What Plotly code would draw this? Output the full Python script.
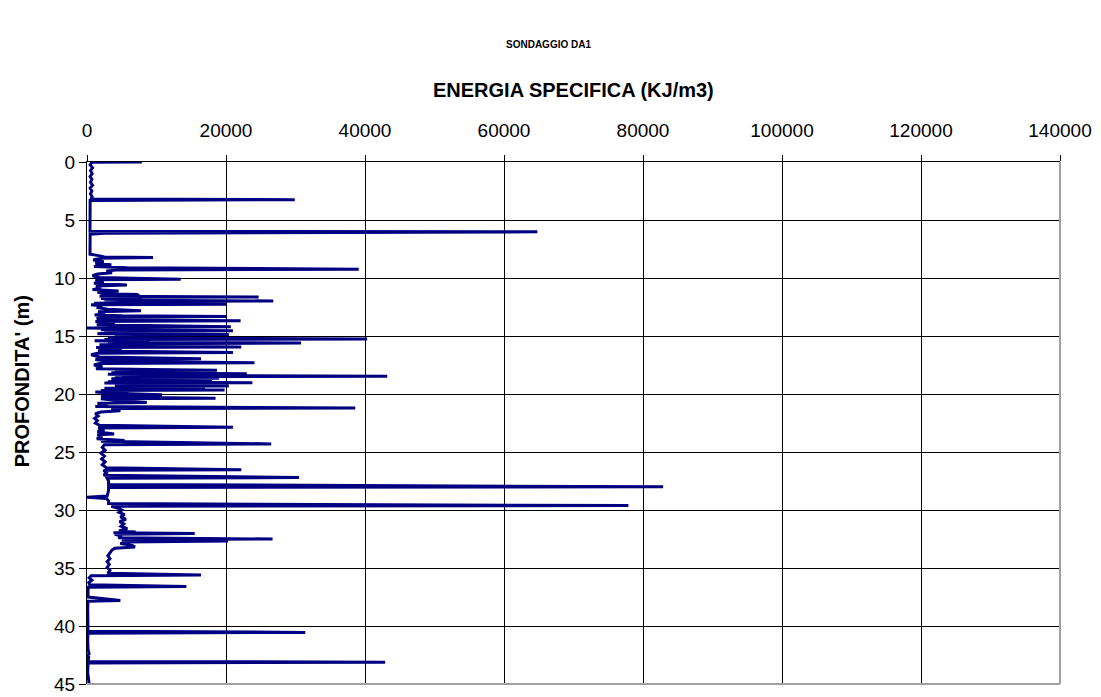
import plotly.graph_objects as go

# Energy log of borehole DA1: depth (m) and specific energy (kJ/m3)
# --- 0 to 8 m
depth_0_8 = [0.00, 0.03, 0.25, 0.50, 0.75, 1.00, 1.25, 1.50, 1.75, 2.00, 2.25, 2.50,
             2.75, 3.00, 3.20, 3.25, 3.32, 4.50, 5.98, 6.02, 6.08, 6.14, 6.22, 7.95]
energy_0_8 = [7900, 700, 450, 800, 500, 750, 450, 700, 500, 800, 450, 700,
              500, 750, 550, 29900, 450, 430, 430, 64800, 15800, 2500, 450, 430]

# --- 8 to 14 m
depth_8_14 = [8.05, 8.18, 8.24, 8.30, 8.45, 8.60, 8.75, 8.85, 9.00, 9.12,
              9.24, 9.30, 9.40, 9.55, 9.65, 9.80, 9.95, 10.10, 10.16, 10.30,
              10.45, 10.60, 10.68, 10.85, 11.00, 11.12, 11.20, 11.35, 11.42, 11.48,
              11.54, 11.58, 11.63, 11.67, 11.72, 11.77, 11.82, 11.88, 11.92, 11.98,
              12.02, 12.07, 12.12, 12.17, 12.22, 12.26, 12.30, 12.42, 12.55, 12.70,
              12.83, 12.92, 13.05, 13.18, 13.26, 13.32, 13.38, 13.50, 13.62, 13.69,
              13.76, 13.84, 13.90, 14.02]
energy_8_14 = [1500, 2500, 9500, 1800, 900, 2400, 1200, 3500, 1000, 5800,
               39100, 4500, 2800, 3600, 1500, 800, 1800, 13500, 1200, 2400,
               1000, 5750, 1300, 2000, 800, 4550, 1500, 2500, 7400, 2000,
               7600, 1800, 24700, 3000, 7800, 2000, 8000, 2500, 7500, 26800,
               4000, 7900, 8150, 1000, 7000, 20100, 600, 2200, 1400, 3000,
               7770, 1600, 2600, 1100, 5000, 20100, 2000, 1400, 5500, 22100,
               1200, 4000, 2800, 1400]

# --- 14 to 20 m
depth_14_20 = [14.20, 14.26, 14.30, 14.36, 14.40, 14.46, 14.54, 14.60, 14.66, 14.72,
               14.80, 14.88, 14.95, 15.04, 15.10, 15.16, 15.20, 15.25, 15.31, 15.36,
               15.42, 15.52, 15.56, 15.60, 15.66, 15.76, 15.86, 15.94, 16.00, 16.08,
               16.15, 16.30, 16.42, 16.48, 16.62, 16.80, 16.97, 17.03, 17.18, 17.31,
               17.37, 17.50, 17.65, 17.82, 17.90, 17.96, 18.00, 18.04, 18.08, 18.12,
               18.16, 18.21, 18.25, 18.29, 18.33, 18.38, 18.43, 18.48, 18.52, 18.56,
               18.60, 18.64, 18.68, 18.72, 18.76, 18.80, 18.85, 18.90, 18.95, 19.02,
               19.06, 19.11, 19.16, 19.20, 19.25, 19.30, 19.34, 19.40, 19.45, 19.50,
               19.55, 19.60, 19.65, 19.70, 19.76, 19.82, 19.90, 19.96]
energy_14_20 = [20700, 3500, 0, 5000, 16000, 2000, 21000, 2500, 9000, 3000,
                1500, 20400, 4000, 8000, 12000, 3000, 20000, 40300, 2500, 7000,
                1100, 9000, 3000, 30800, 7000, 1800, 6000, 22200, 1300, 5000,
                3200, 1600, 21000, 1500, 600, 1800, 16400, 1200, 3000, 24100,
                1800, 1000, 2200, 1300, 12000, 18700, 4000, 16000, 5000, 17000,
                3500, 19000, 23000, 3000, 14000, 6000, 20000, 43200, 5000, 17000,
                4000, 19000, 3500, 16000, 4000, 15000, 5000, 18000, 3000, 23800,
                2500, 14000, 12000, 4500, 17000, 20400, 4000, 17000, 12000, 2500,
                9000, 3000, 19800, 2000, 6000, 1200, 3000, 5000]

# --- 20 to 30 m
depth_20_30 = [20.07, 20.10, 20.14, 20.18, 20.22, 20.26, 20.30, 20.36, 20.42, 20.55,
               20.73, 20.80, 20.95, 21.08, 21.20, 21.26, 21.45, 21.55, 21.70, 21.90,
               22.10, 22.30, 22.50, 22.70, 22.87, 22.94, 23.10, 23.25, 23.44, 23.52,
               23.70, 23.85, 24.00, 24.08, 24.30, 24.37, 24.60, 24.85, 25.10, 25.35,
               25.60, 25.85, 26.10, 26.35, 26.52, 26.58, 26.80, 27.00, 27.20, 27.26,
               27.50, 27.80, 28.00, 28.06, 28.30, 28.60, 28.80, 28.90, 29.00, 29.20,
               29.45, 29.62, 29.68, 29.85]
energy_20_30 = [10800, 3000, 9000, 2000, 7000, 2500, 11000, 18500, 2000, 4000,
                8600, 1500, 3000, 1200, 38600, 3500, 4800, 2000, 1200, 1600,
                1100, 1500, 1200, 1800, 21000, 1600, 2500, 1500, 3900, 1500,
                2200, 1400, 5400, 2000, 26500, 2500, 2200, 2600, 2000, 2500,
                2100, 2600, 2200, 2800, 22200, 2400, 2800, 2400, 30500, 2900,
                3100, 3100, 82900, 3100, 3100, 3000, 2900, 0, 2800, 3100,
                3100, 77900, 3500, 4500]

# --- 30 to 45 m
depth_30_45 = [30.00, 30.20, 30.40, 30.60, 30.80, 31.00, 31.20, 31.40, 31.60, 31.80,
               31.90, 31.96, 32.02, 32.10, 32.25, 32.40, 32.50, 32.56, 32.68, 32.75,
               32.90, 33.05, 33.20, 33.30, 33.45, 33.70, 33.95, 34.20, 34.45, 34.70,
               34.95, 35.20, 35.45, 35.60, 35.66, 35.85, 36.05, 36.25, 36.45, 36.60,
               36.66, 36.90, 37.20, 37.50, 37.80, 37.86, 38.50, 39.30, 40.10, 40.45,
               40.55, 40.62, 41.20, 42.00, 42.40, 42.50, 42.70, 43.05, 43.12, 43.18,
               44.00, 44.97]
energy_30_45 = [5000, 4600, 5400, 4800, 5600, 4700, 5300, 4900, 5800, 4600,
                7000, 3800, 15500, 4000, 5000, 4500, 26700, 5000, 20300, 5500,
                4800, 6500, 6900, 4000, 3600, 3300, 3000, 3300, 2900, 3200,
                2900, 3300, 3000, 16400, 600, 300, 700, 250, 400, 14300,
                200, 150, 150, 150, 4800, 150, 100, 150, 100, 150,
                31400, 150, 100, 150, 300, 100, 250, 150, 42900, 150,
                100, 300]

depth = depth_0_8 + depth_8_14 + depth_14_20 + depth_20_30 + depth_30_45
energy = energy_0_8 + energy_8_14 + energy_14_20 + energy_20_30 + energy_30_45
assert len(depth) == len(energy)

x_ticks = [0, 20000, 40000, 60000, 80000, 100000, 120000, 140000]
y_ticks = [0, 5, 10, 15, 20, 25, 30, 35, 40, 45]

FONT = "Liberation Sans, Arial, sans-serif"

fig = go.Figure(
    go.Scatter(
        x=energy,
        y=depth,
        mode="lines",
        line=dict(color="#000080", width=3),
        hoverinfo="x+y",
        showlegend=False,
    )
)

fig.update_layout(
    width=1101,
    height=697,
    margin=dict(l=87, r=41, t=162, b=13, autoexpand=False),
    paper_bgcolor="white",
    plot_bgcolor="white",
    font=dict(family=FONT, color="black"),
    xaxis=dict(
        side="top",
        range=[0, 140000],
        tickvals=x_ticks,
        ticktext=[str(v) for v in x_ticks],
        ticks="outside",
        ticklen=6,
        tickcolor="black",
        tickfont=dict(size=19, family=FONT, color="black"),
        ticklabelstandoff=10,
        showgrid=True,
        gridcolor="black",
        gridwidth=1,
        showline=True,
        linecolor="black",
        linewidth=1,
        zeroline=False,
        automargin=False,
        fixedrange=True,
    ),
    yaxis=dict(
        range=[45, 0],
        tickvals=y_ticks,
        ticktext=[str(v) for v in y_ticks],
        ticks="outside",
        ticklen=7,
        tickcolor="black",
        tickfont=dict(size=19, family=FONT, color="black"),
        ticklabeloverflow="allow",
        showgrid=True,
        gridcolor="black",
        gridwidth=1,
        showline=True,
        linecolor="black",
        linewidth=1,
        zeroline=False,
        automargin=False,
        fixedrange=True,
    ),
    shapes=[
        # grey frame on the right and bottom sides of the plot area
        dict(type="line", xref="paper", yref="paper", x0=1, x1=1, y0=0, y1=1,
             line=dict(color="#a0a0a0", width=2), layer="above"),
        dict(type="line", xref="paper", yref="paper", x0=0, x1=1, y0=0, y1=0,
             line=dict(color="#a0a0a0", width=2), layer="above"),
    ],
    annotations=[
        dict(text="<b>SONDAGGIO DA1</b>", xref="paper", yref="paper",
             x=0.474, y=1.225, xanchor="center", yanchor="middle",
             showarrow=False, font=dict(size=10, family=FONT, color="black")),
        dict(text="<b>ENERGIA SPECIFICA (KJ/m3)</b>", xref="paper", yref="paper",
             x=0.5, y=1.138, xanchor="center", yanchor="middle",
             showarrow=False, font=dict(size=20, family=FONT, color="black")),
        dict(text="<b>PROFONDITA' (m)</b>", xref="paper", yref="paper",
             x=-0.0668, y=0.58, xanchor="center", yanchor="middle",
             textangle=-90, showarrow=False,
             font=dict(size=20, family=FONT, color="black")),
    ],
)

fig.write_html("out.html")
